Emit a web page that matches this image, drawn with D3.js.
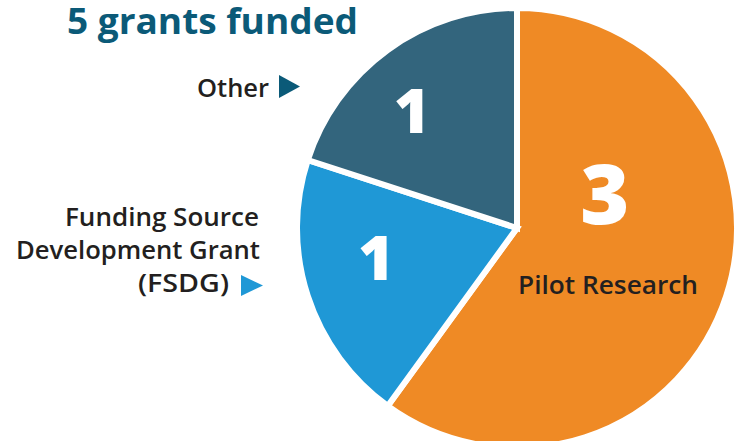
<!DOCTYPE html>
<html>
<head>
<meta charset="utf-8">
<script src="https://cdn.jsdelivr.net/npm/d3@7"></script>
<style>
  body { margin: 0; background: #fff; }
  svg { display: block; font-family: "Open Sans", "DejaVu Sans", sans-serif; }
</style>
</head>
<body>
<svg id="chart"></svg>
<script>
// Grant categories and counts
const categories = ['Pilot Research', 'Funding Source Development Grant (FSDG)', 'Other'];
const counts = [3, 1, 1];
const colors = ['#EF8A25', '#1F98D6', '#33657D'];
const title = '5 grants funded';

const width = 741;
const height = 441;
const cx = 517, cy = 228;
const radius = 220;

const svg = d3.select('#chart')
    .attr('width', width)
    .attr('height', height);

const data = categories.map((c, i) => ({ category: c, count: counts[i], color: colors[i] }));

// pie starts at 12 o'clock, clockwise, keep order
const pie = d3.pie()
    .value(d => d.count)
    .sort(null);

const arc = d3.arc()
    .innerRadius(0)
    .outerRadius(radius);

const g = svg.append('g')
    .attr('transform', `translate(${cx},${cy})`);

const arcs = g.selectAll('.arc')
    .data(pie(data))
    .enter()
    .append('g')
    .attr('class', 'arc');

arcs.append('path')
    .attr('d', arc)
    .attr('fill', d => d.data.color)
    .attr('stroke', 'white')
    .style('stroke-width', '6px');

// polar helper: angle clockwise from top (degrees), r in px
function polar(deg, r) {
    const a = deg * Math.PI / 180;
    return [Math.sin(a) * r, -Math.cos(a) * r];
}

// count labels inside slices (angle, radius, baseline shift, size)
const countLabels = [
    { deg: 69, r: 94, size: 84, shift: 30 },
    { deg: 258, r: 144, size: 62, shift: 22 },
    { deg: 318, r: 157, size: 62, shift: 22 }
];

arcs.append('text')
    .attr('transform', (d, i) => {
        const p = polar(countLabels[i].deg, countLabels[i].r);
        return `translate(${p[0]},${p[1] + countLabels[i].shift})`;
    })
    .attr('text-anchor', 'middle')
    .style('font-size', (d, i) => countLabels[i].size + 'px')
    .style('font-weight', 800)
    .style('fill', 'white')
    .text(d => d.data.count);

// category label inside the big slice
g.append('text')
    .attr('x', 91)
    .attr('y', 66)
    .attr('text-anchor', 'middle')
    .style('font-size', '25px')
    .style('font-weight', 600)
    .style('fill', '#231F20')
    .attr('textLength', 180)
    .attr('lengthAdjust', 'spacingAndGlyphs')
    .text(categories[0]);

// outside labels with pointer triangles
const fsdgLines = ['Funding Source', 'Development Grant', '(FSDG)'];
const fsdgWidths = [194, 244, 91];
const fsdgRight = [259, 260, 229];
svg.append('g').selectAll('text')
    .data(fsdgLines)
    .enter()
    .append('text')
    .attr('x', (d, i) => fsdgRight[i] - fsdgWidths[i])
    .attr('y', (d, i) => 226 + i * 33)
    .style('font-size', '25px')
    .style('font-weight', 600)
    .style('fill', '#231F20')
    .attr('textLength', (d, i) => fsdgWidths[i])
    .attr('lengthAdjust', 'spacingAndGlyphs')
    .text(d => d);

svg.append('path')
    .attr('d', 'M241,275 L263,285.5 L241,296 Z')
    .attr('fill', colors[1]);

svg.append('text')
    .attr('x', 197)
    .attr('y', 97)
    .style('font-size', '26px')
    .style('font-weight', 600)
    .style('fill', '#231F20')
    .attr('textLength', 72)
    .attr('lengthAdjust', 'spacingAndGlyphs')
    .text(categories[2]);

svg.append('path')
    .attr('d', 'M279,75 L300,86.5 L279,98 Z')
    .attr('fill', '#0B5A78');

// title
svg.append('text')
    .attr('x', 67)
    .attr('y', 34)
    .style('font-size', '36px')
    .style('font-weight', 700)
    .style('fill', '#0B5A78')
    .attr('textLength', 291)
    .attr('lengthAdjust', 'spacingAndGlyphs')
    .text(title);
</script>
</body>
</html>
